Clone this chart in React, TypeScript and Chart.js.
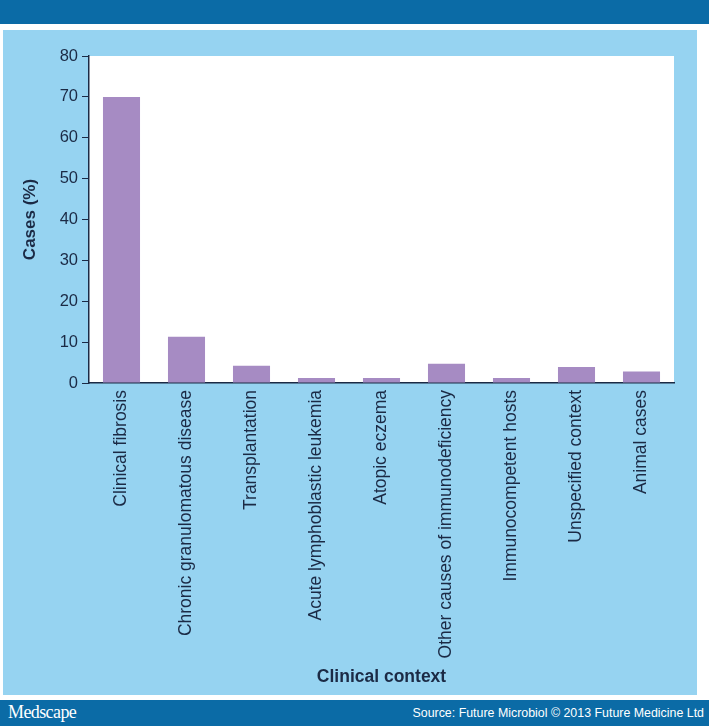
import React, { useEffect, useRef } from "react";
import { Chart, registerables } from "chart.js";

Chart.register(...registerables);

const categories = [
  "Clinical fibrosis",
  "Chronic granulomatous disease",
  "Transplantation",
  "Acute lymphoblastic leukemia",
  "Atopic eczema",
  "Other causes of immunodeficiency",
  "Immunocompetent hosts",
  "Unspecified context",
  "Animal cases",
];
const casesPercent = [70, 11.3, 4.2, 1.2, 1.2, 4.7, 1.2, 3.9, 2.8];
const yTitle = "Cases (%)";
const xTitle = "Clinical context";

const NAVY = "#1b2a45";
const FONT = "'Liberation Sans', Arial, sans-serif";

const plotBg = {
  id: "plotBg",
  beforeDraw(chart: any) {
    const { ctx, chartArea } = chart;
    ctx.save();
    ctx.fillStyle = "#ffffff";
    ctx.fillRect(chartArea.left, chartArea.top, chartArea.right - chartArea.left, chartArea.bottom - chartArea.top);
    ctx.restore();
  },
};

export default function App() {
  const ref = useRef<HTMLCanvasElement>(null);
  useEffect(() => {
    if (!ref.current) return;
    const chart = new Chart(ref.current, {
      type: "bar",
      data: {
        labels: categories,
        datasets: [
          {
            data: casesPercent,
            backgroundColor: "#a68bc3",
            borderWidth: 0,
            barPercentage: 0.57,
            categoryPercentage: 1,
          },
        ],
      },
      options: {
        responsive: false,
        animation: false,
        devicePixelRatio: 1,
        layout: { padding: { top: 26, right: 23, left: 0, bottom: 0 } },
        plugins: { legend: { display: false }, tooltip: { enabled: false } },
        scales: {
          x: {
            afterFit: (s: any) => {
              s.height = 312;
            },
            grid: { display: false, drawTicks: false },
            border: { display: true, color: NAVY, width: 1.5 },
            ticks: {
              autoSkip: false,
              maxRotation: 90,
              minRotation: 90,
              padding: 7,
              color: NAVY,
              font: { family: FONT, size: 17.5 },
            },
            title: {
              display: true,
              text: xTitle,
              color: NAVY,
              font: { family: FONT, size: 17.5, weight: "bold" },
              padding: { top: 4, bottom: 7 },
            },
          },
          y: {
            min: 0,
            max: 80,
            afterFit: (s: any) => {
              s.width = 86;
            },
            grid: { drawOnChartArea: false, drawTicks: true, tickLength: 7, color: NAVY, lineWidth: 1 },
            border: { display: true, color: NAVY, width: 1.5 },
            ticks: {
              stepSize: 10,
              padding: 4,
              color: NAVY,
              font: { family: FONT, size: 16.5 },
            },
            title: {
              display: true,
              text: yTitle,
              color: NAVY,
              font: { family: FONT, size: 17, weight: "bold" },
              padding: { top: 17, bottom: 0 },
            },
          },
        },
      },
      plugins: [plotBg],
    });
    return () => chart.destroy();
  }, []);

  return (
    <div style={{ position: "absolute", left: 0, top: 0, width: 709, height: 726, background: "#ffffff", overflow: "hidden" }}>
      <div style={{ position: "absolute", left: 0, top: 0, width: 709, height: 24, background: "#0b6ba6" }} />
      <div style={{ position: "absolute", left: 3, top: 30, width: 694, height: 665, background: "#96d3f1" }}>
        <canvas ref={ref} width={694} height={665} style={{ display: "block", width: 694, height: 665 }} />
      </div>
      <div style={{ position: "absolute", left: 0, top: 700, width: 709, height: 26, background: "#0b6ba6" }}>
        <span
          style={{
            position: "absolute",
            left: 8,
            top: 2,
            color: "#ffffff",
            fontFamily: "'Liberation Serif', 'DejaVu Serif', serif",
            fontSize: 18,
            letterSpacing: -0.6,
          }}
        >
          Medscape
        </span>
        <span
          style={{
            position: "absolute",
            right: 5,
            top: 6,
            color: "#ffffff",
            fontFamily: FONT,
            fontSize: 12.4,
            whiteSpace: "nowrap",
          }}
        >
          Source: Future Microbiol © 2013 Future Medicine Ltd
        </span>
      </div>
    </div>
  );
}
